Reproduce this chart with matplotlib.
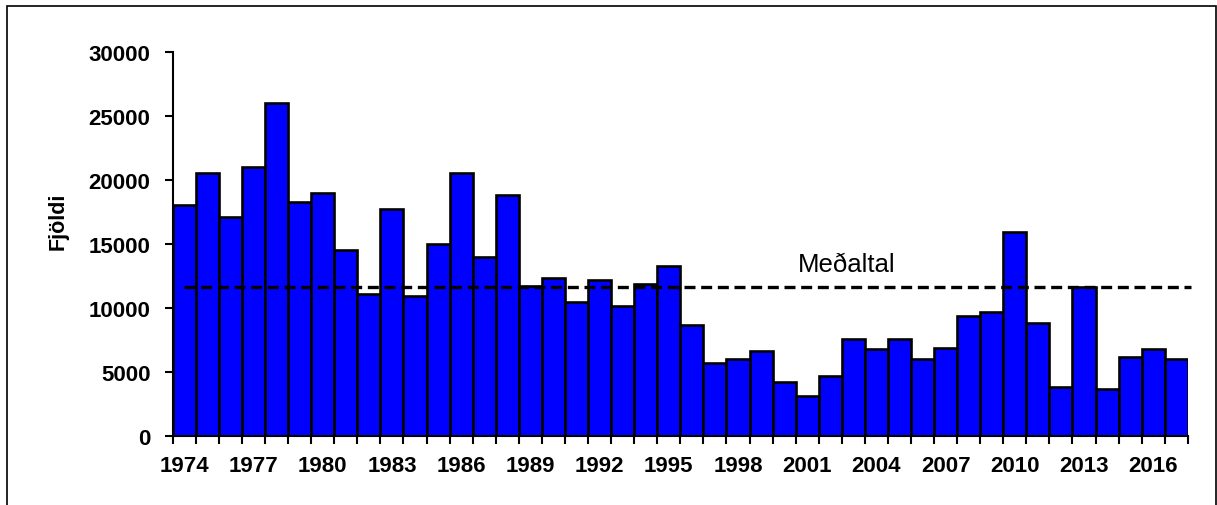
import numpy as np
import matplotlib
matplotlib.use("Agg")
import matplotlib.pyplot as plt
from matplotlib.patches import Rectangle

# yearly counts
years = list(range(1974, 2018))
counts = [18000, 20500, 17100, 21000, 26000, 18300, 18950, 14500, 11100, 17700,
          10950, 14950, 20500, 14000, 18800, 11700, 12300, 10450, 12200, 10150,
          11850, 13250, 8650, 5700, 6000, 6650, 4200, 3100, 4650, 7550,
          6800, 7550, 6000, 6900, 9400, 9700, 15900, 8800, 3850, 11600,
          3700, 6150, 6800, 6000]
mean_value = 11650
tick_years = list(range(1974, 2017, 3))
yticks = [0, 5000, 10000, 15000, 20000, 25000, 30000]

plt.rcParams['font.family'] = ['Liberation Sans', 'DejaVu Sans']

fig = plt.figure(figsize=(12.17, 5.06), dpi=100)
ax = fig.add_axes([0.142, 0.1364, 0.834, 0.7596])

x = np.arange(len(years))
ax.bar(x, counts, width=1.0, align='edge', color='#0000ff',
       edgecolor='black', linewidth=1.9)

# average line
ax.plot([0.5, len(years) + 0.15], [mean_value, mean_value], color='black',
        linewidth=2.4, dashes=(3.3, 1.7), clip_on=False)
ax.text(29.2, 12900, "Meðaltal", fontsize=18.5, ha='center', va='baseline')

ax.set_xlim(0, len(years))
ax.set_ylim(0, 30000)
ax.set_yticks(yticks)
ax.set_yticklabels([str(v) for v in yticks], fontsize=16, fontweight='bold')

ax.set_xticks(np.arange(len(years) + 1))
ax.set_xticklabels([])
ax.set_xticks([years.index(y) + 0.5 for y in tick_years], minor=True)
ax.set_xticklabels([str(y) for y in tick_years], minor=True,
                   fontsize=16, fontweight='bold')
ax.tick_params(axis='x', which='minor', length=0, pad=14)
ax.tick_params(axis='x', which='major', length=6, width=1.5, direction='out')
ax.tick_params(axis='y', length=6, width=1.5, direction='out', pad=10)

ax.set_ylabel("Fjöldi", fontsize=15.5, fontweight='bold')
ax.yaxis.set_label_coords(-0.103, 0.56)

ax.spines['top'].set_visible(False)
ax.spines['right'].set_visible(False)
ax.spines['left'].set_linewidth(1.5)
ax.spines['bottom'].set_linewidth(1.5)

# outer frame, cut off at the bottom like the original
fig.patches.append(Rectangle((7 / 1217, -0.2), 1208.5 / 1217, 1.2 - 7 / 506,
                             transform=fig.transFigure, fill=False,
                             edgecolor='black', linewidth=1.2))

fig.savefig("out.png", dpi=100)
